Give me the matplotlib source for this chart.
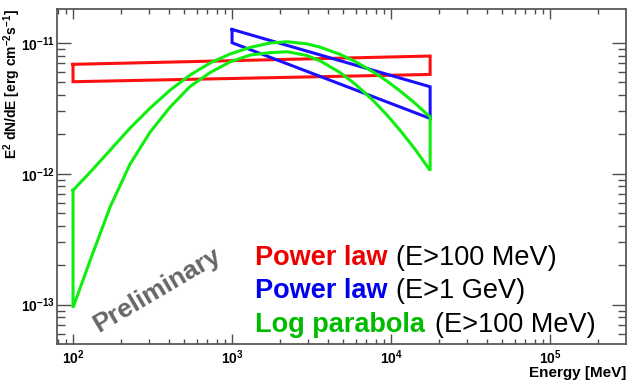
import matplotlib
matplotlib.use('Agg')
import numpy as np
import matplotlib.pyplot as plt
from matplotlib.ticker import FixedLocator, NullFormatter, FuncFormatter

plt.rcParams['font.family'] = ['Liberation Sans', 'DejaVu Sans']
plt.rcParams['mathtext.fontset'] = 'custom'
plt.rcParams['mathtext.bf'] = 'Liberation Sans:bold'
plt.rcParams['mathtext.rm'] = 'Liberation Sans:bold'
plt.rcParams['mathtext.default'] = 'bf'

# power law, E>100 MeV (butterfly edges)
pl_e = [100, 17600]
pl_hi = [6.87e-12, 7.95e-12]
pl_lo = [5.06e-12, 5.75e-12]

# power law, E>1 GeV
pl1_e = [1000, 17600]
pl1_hi = [1.27e-11, 4.63e-12]
pl1_lo = [1.005e-11, 2.65e-12]

# log parabola envelope
lp_e = [100, 128, 171, 228, 305, 408, 544, 727, 971, 1298, 1734, 2218,
        2950, 3577, 4778, 5937, 7741, 9436, 11394, 14158, 17600]
lp_hi = [7.48e-13, 1.027e-12, 1.514e-12, 2.233e-12, 3.178e-12, 4.365e-12,
         5.69e-12, 7.03e-12, 8.24e-12, 9.25e-12, 1.0e-11, 1.023e-11,
         9.86e-12, 9.30e-12, 8.19e-12, 7.23e-12, 6.00e-12, 5.11e-12,
         4.30e-12, 3.46e-12, 2.72e-12]
lp_lo = [9.48e-14, 2.17e-13, 5.57e-13, 1.183e-12, 2.08e-12, 3.24e-12,
         4.65e-12, 5.94e-12, 7.17e-12, 8.09e-12, 8.44e-12, 8.58e-12,
         8.03e-12, 7.31e-12, 5.94e-12, 4.86e-12, 3.62e-12, 2.81e-12,
         2.15e-12, 1.54e-12, 1.06e-12]

x_major = [1e2, 1e3, 1e4, 1e5]
y_major = [1e-13, 1e-12, 1e-11]


def band(ax, e, hi, lo, color):
    xs = list(e) + list(e[::-1]) + [e[0]]
    ys = list(hi) + list(lo[::-1]) + [hi[0]]
    ax.plot(xs, ys, color=color, lw=2.2, solid_joinstyle='miter')


def pow10(v, pos):
    return r'$\mathbf{10^{%d}}$' % int(round(np.log10(v)))


def minors(lo, hi, d0, d1):
    out = []
    for d in range(d0, d1 + 1):
        for m in range(2, 10):
            v = m * 10.0 ** d
            if lo < v < hi:
                out.append(v)
    return out


fig = plt.figure(figsize=(6.36, 3.85), dpi=100)
W, H = 636, 385
ax = fig.add_axes([57 / W, 1 - 344 / H, (626 - 57) / W, (344 - 9) / H])
ax.set_xscale('log')
ax.set_yscale('log')
xlim = (79.3, 3.0e5)
ylim = (5.0e-14, 1.82e-11)
ax.set_xlim(*xlim)
ax.set_ylim(*ylim)

band(ax, pl_e, pl_hi, pl_lo, '#ff1010')
band(ax, pl1_e, pl1_hi, pl1_lo, '#1a10ff')
band(ax, lp_e, lp_hi, lp_lo, '#10ee10')

ax.xaxis.set_major_locator(FixedLocator(x_major))
ax.xaxis.set_minor_locator(FixedLocator(minors(*xlim, 1, 5)))
ax.yaxis.set_major_locator(FixedLocator(y_major))
ax.yaxis.set_minor_locator(FixedLocator(minors(*ylim, -14, -11)))
ax.xaxis.set_major_formatter(FuncFormatter(pow10))
ax.yaxis.set_major_formatter(FuncFormatter(pow10))
ax.xaxis.set_minor_formatter(NullFormatter())
ax.yaxis.set_minor_formatter(NullFormatter())

ax.tick_params(axis='x', which='major', direction='in', length=7, width=1,
               color='0.3', top=True, labelsize=10, pad=3.5)
ax.tick_params(axis='x', which='minor', direction='in', length=3.6, width=1,
               color='0.3', top=True)
ax.tick_params(axis='y', which='major', direction='in', length=10, width=1,
               color='0.3', right=True, labelsize=10, pad=1.5)
ax.tick_params(axis='y', which='minor', direction='in', length=6, width=1,
               color='0.3', right=True)
for s in ax.spines.values():
    s.set_color('0.35')
    s.set_linewidth(1.3)

fig.text(12 / W, 1 - 9 / H, r'E$^2$ dN/dE [erg cm$^{-2}$s$^{-1}$]',
         rotation=90, ha='center', va='top', fontsize=10, fontweight='bold')
fig.text(626 / W, 1 - 377 / H, 'Energy [MeV]', ha='right', va='baseline',
         fontsize=11, fontweight='bold')

fig.text(157 / W, 1 - 290 / H, 'Preliminary', rotation=30.5, ha='center',
         va='center', rotation_mode='anchor', fontsize=19, fontweight='bold',
         color='#666666')

legend_rows = [('Power law', '(E>100 MeV)', '#ee0000', 265, 396),
               ('Power law', '(E>1 GeV)', '#0000ee', 298, 396),
               ('Log parabola', '(E>100 MeV)', '#00bb00', 331.5, 435)]
for name, rng, col, yb, x2 in legend_rows:
    fig.text(255 / W, 1 - yb / H, name, color=col, fontsize=19.5,
             fontweight='bold', va='baseline', ha='left')
    fig.text(x2 / W, 1 - yb / H, rng, color='black', fontsize=19.5,
             va='baseline', ha='left')

fig.savefig('out.png', dpi=100)
